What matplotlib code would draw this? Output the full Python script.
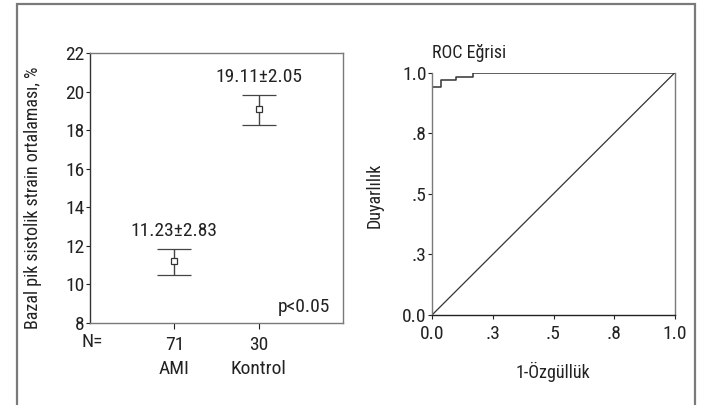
import numpy as np
import matplotlib
matplotlib.use("Agg")
import matplotlib.pyplot as plt
from matplotlib.patches import Rectangle

plt.rcParams["font.family"] = ["Roboto Condensed", "DejaVu Sans"]

# left panel: group means with 95% CI
groups = ["AMI", "Kontrol"]
n_counts = [71, 30]
means = [11.23, 19.11]
sds = [2.83, 2.05]
ci_low = [10.50, 18.25]
ci_high = [11.82, 19.80]
strain_ticks = [8, 10, 12, 14, 16, 18, 20, 22]

# right panel: ROC curve (step points)
roc_fpr = [0.0, 0.0, 0.035, 0.035, 0.10, 0.10, 0.17, 0.17, 1.0]
roc_tpr = [0.0, 0.94, 0.94, 0.968, 0.968, 0.98, 0.98, 1.0, 1.0]
roc_ticks = [0.0, 0.25, 0.5, 0.75, 1.0]
roc_tick_labels = ["0.0", ".3", ".5", ".8", "1.0"]

TXT = "#222222"
GRAY = "#7a7a7a"
FS = 14

fig = plt.figure(figsize=(7.02, 4.05), dpi=100)

# outer frame (bottom edge runs past the picture)
fig.patches.append(Rectangle((17 / 702, -0.05), (695 - 17) / 702, 1.05 - 4 / 405,
                             transform=fig.transFigure, fill=False,
                             edgecolor=GRAY, linewidth=1.6))

# ---- left panel ----
ax1 = fig.add_axes([90 / 702, 1 - 323 / 405, 253 / 702, 270 / 405])
x = np.arange(1, len(groups) + 1)
m = np.array(means)
yerr = np.array([m - np.array(ci_low), np.array(ci_high) - m])
ax1.errorbar(x, m, yerr=yerr, fmt="s", ms=5, mfc="white", mec="#333333",
             mew=0.9, ecolor="#444444", elinewidth=1.0, capsize=12, capthick=1.0)
for xi, mu, sd, hi in zip(x, means, sds, ci_high):
    ax1.text(xi, hi + 0.95, f"{mu:.2f}±{sd:.2f}", ha="center", va="center",
             fontsize=FS, color=TXT)
ax1.set_xlim(0, 3)
ax1.set_ylim(8, 22)
ax1.set_yticks(strain_ticks)
ax1.set_xticks(x)
ax1.set_xticklabels([f"{n}\n{g}" for n, g in zip(n_counts, groups)],
                    linespacing=1.45)
ax1.tick_params(axis="both", labelsize=FS, colors=TXT, length=3, width=0.8)
ax1.tick_params(axis="y", pad=1)
ax1.tick_params(axis="x", pad=5, length=4)
ax1.text(0.01, -0.072, "N=", transform=ax1.transAxes, ha="center", va="center",
         fontsize=FS, color=TXT)
ax1.text(0.95, 0.06, "p<0.05", transform=ax1.transAxes, ha="right", va="center",
         fontsize=FS, color=TXT)
ax1.set_ylabel("Bazal pik sistolik strain ortalaması, %", fontsize=13, color=TXT)
ax1.yaxis.set_label_coords(-0.19, 0.465)
for side in ["top", "right", "bottom"]:
    ax1.spines[side].set_color(GRAY)
ax1.spines["left"].set_color("#333333")
for sp in ax1.spines.values():
    sp.set_linewidth(1.0)

# ---- right panel ----
ax2 = fig.add_axes([432 / 702, 1 - 315 / 405, 243 / 702, 242.5 / 405])
ax2.plot([0, 1], [0, 1], color="#333333", lw=0.9)
ax2.plot(roc_fpr, roc_tpr, color="#333333", lw=1.1)
ax2.set_xlim(0, 1)
ax2.set_ylim(0, 1)
ax2.set_xticks(roc_ticks)
ax2.set_xticklabels(roc_tick_labels)
ax2.set_yticks(roc_ticks)
ax2.set_yticklabels(roc_tick_labels)
ax2.tick_params(axis="both", labelsize=FS, colors=TXT, length=3, width=0.8)
ax2.tick_params(axis="y", pad=1)
ax2.tick_params(axis="x", pad=4)
ax2.set_xlabel("1-Özgüllük", fontsize=13, color=TXT)
ax2.xaxis.set_label_coords(0.498, -0.194)
ax2.set_ylabel("Duyarlılık", fontsize=13, color=TXT)
ax2.yaxis.set_label_coords(-0.198, 0.495)
ax2.text(0.0, 1.08, "ROC Eğrisi", transform=ax2.transAxes, ha="left", va="center",
         fontsize=13, color=TXT)
ax2.spines["top"].set_visible(False)
ax2.spines["left"].set_color(GRAY)
ax2.spines["right"].set_color(GRAY)
ax2.spines["bottom"].set_color("#222222")
for sp in ax2.spines.values():
    sp.set_linewidth(1.0)

fig.savefig("out.png", dpi=100)
